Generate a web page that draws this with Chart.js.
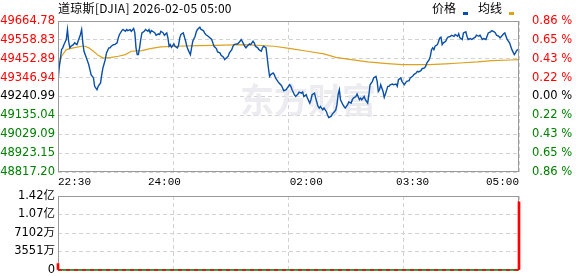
<!DOCTYPE html>
<html>
<head>
<meta charset="utf-8">
<script src="https://cdn.jsdelivr.net/npm/chart.js@4.4.1/dist/chart.umd.min.js"></script>
<style>
  html, body { margin: 0; padding: 0; background: #fff; overflow: hidden; }
  #wrap { position: relative; width: 578px; height: 276px; }
  #title { position: absolute; left: 58px; top: 0; font: 12px "Noto Sans CJK SC"; line-height: 16px; color: #000; white-space: nowrap; letter-spacing: 0.3px; }
  #legend { position: absolute; left: 432px; top: 0; font: 12px "Noto Sans CJK SC"; line-height: 16px; color: #000; white-space: nowrap; }
  #legend i { display: inline-block; width: 5px; height: 3px; vertical-align: -2px; margin: 0 10px 0 7px; }
  #main { position: absolute; left: 0; top: 0; }
  #vol { position: absolute; left: 0; top: 184px; }
</style>
</head>
<body>
<div id="wrap">
  <canvas id="main" width="578" height="192"></canvas>
  <canvas id="vol" width="578" height="96"></canvas>
  <div id="title">道琼斯[DJIA] 2026-02-05 05:00</div>
  <div id="legend">价格<i style="background:#0a4fa8"></i>均线<i style="background:#dca11d"></i></div>
</div>
<script>
// minutes after 22:30 open
const priceMin = [0,1,3,4,5,7,8,9,10,11,13,14,16,17,19,20,21,22,24,26,27,28,30,31,33,34,36,37,38,40,41,43,44,45,47,48,50,51,52,54,55,57,58,59,61,62,64,65,66,67,68,69,70,71,73,74,76,77,78,79,80,82,83,85,86,87,89,90,92,93,94,95,96,98,99,101,102,103,104,106,107,108,109,110,112,113,114,116,117,118,120,121,123,124,125,127,128,130,131,132,134,135,137,138,140,141,142,144,145,147,148,149,151,152,154,155,156,158,159,160,162,163,165,166,167,169,170,172,173,174,176,177,178,179,180,182,183,184,186,187,189,190,191,193,194,196,197,198,200,201,203,204,206,207,208,210,211,213,214,215,217,218,220,221,222,224,225,227,228,229,231,232,234,235,236,237,238,239,241,242,243,245,246,248,249,250,252,253,255,256,257,259,260,262,263,264,266,267,269,270,271,272,273,275,276,277,279,280,281,283,284,286,287,288,290,291,293,294,295,297,298,300,301,303,304,305,307,308,310,311,312,314,315,316,317,318,319,321,322,323,324,325,326,328,329,330,332,333,335,336,338,339,340,342,343,345,346,347,349,350,352,353,354,356,357,359,360,362,363,364,366,367,369,370,371,373,374,376,377,378,379,380,382,383,384,386,387,388,390]
const priceVals = [49326,49401,49504,49514,49532,49561,49617,49551,49514,49523,49532,49542,49532,49551,49589,49617,49542,49495,49458,49420,49392,49364,49345,49298,49279,49298,49317,49364,49401,49448,49486,49514,49514,49523,49532,49532,49542,49570,49589,49611,49617,49607,49617,49611,49617,49607,49623,49598,49514,49476,49476,49514,49561,49598,49607,49617,49607,49617,49598,49611,49607,49598,49585,49593,49589,49607,49598,49585,49598,49570,49523,49532,49517,49536,49523,49514,49529,49570,49589,49598,49574,49551,49523,49504,49476,49514,49551,49579,49604,49617,49630,49617,49611,49598,49589,49579,49574,49561,49542,49523,49510,49491,49486,49472,49461,49448,49454,49467,49486,49504,49523,49532,49536,49536,49551,49561,49549,49523,49514,49523,49536,49532,49551,49542,49523,49514,49504,49495,49514,49523,49514,49458,49401,49354,49364,49373,49364,49345,49326,49317,49303,49289,49273,49279,49289,49307,49298,49279,49251,49241,49255,49266,49260,49266,49241,49251,49232,49204,49223,49251,49260,49232,49185,49176,49185,49166,49176,49157,49138,49123,49129,49142,49157,49166,49195,49251,49279,49223,49195,49185,49176,49195,49210,49204,49223,49232,49241,49255,49223,49232,49223,49241,49223,49204,49251,49307,49326,49345,49354,49326,49269,49279,49307,49269,49236,49255,49298,49298,49307,49311,49307,49311,49298,49335,49345,49326,49307,49317,49326,49330,49345,49354,49364,49373,49382,49379,49386,49397,49401,49410,49429,49448,49467,49504,49514,49504,49523,49532,49551,49570,49574,49532,49542,49551,49566,49574,49579,49585,49579,49589,49579,49593,49570,49561,49598,49604,49579,49561,49566,49561,49570,49574,49585,49579,49585,49561,49566,49561,49579,49598,49604,49611,49604,49598,49585,49579,49570,49585,49593,49598,49579,49561,49542,49523,49504,49476,49486,49499,49508]

const avgMin  = [0,3,7,13,20,23,26,30,34,38,41,45,51,57,62,71,78,87,99,118,133,157,183,197,211,225,235,248,262,276,291,314,328,340,355,367,383,390]
const avgVals = [49392,49467,49504,49514,49523,49523,49514,49495,49472,49458,49458,49461,49467,49476,49495,49499,49510,49519,49523,49527,49528,49532,49523,49510,49495,49480,49461,49448,49435,49427,49420,49420,49424,49429,49435,49442,49446,49448]

const volMin  = [0, 390]
const volVals = [1230e4, 13100e4]

const priceTicks = [48817.20, 48923.15, 49029.09, 49135.04, 49240.99, 49346.94, 49452.89, 49558.83, 49664.78]
const pctLabels  = ['0.86 %','0.65 %','0.43 %','0.22 %','0.00 %','0.22 %','0.43 %','0.65 %','0.86 %']
const timeTicks  = [0, 90, 210, 300, 390]
const timeLabels = ['22:30','24:00','02:00','03:30','05:00']
const gridTimes  = [0, 97.5, 195, 292.5, 390]
const volTicks   = [0, 3551e4, 7102e4, 10653e4, 14204e4]
const volLabels  = ['0','3551万','7102万','1.07亿','1.42亿']

const GRID = '#d2d2d2'
const numFont = { family: '"DejaVu Sans", "Noto Sans CJK SC"', size: 11.5 }
const upDown = c => c.index > 4 ? '#ff0000' : c.index === 4 ? '#000000' : '#008000'

function strokeFrame(chart) {
  const { ctx, chartArea: a } = chart
  ctx.save()
  ctx.strokeStyle = '#9a9a9a'
  ctx.lineWidth = 1
  ctx.strokeRect(a.left + 0.5, a.top + 0.5, a.right - a.left - 1, a.bottom - a.top - 1)
  ctx.restore()
}
const frameAfter  = { id: 'frameAfter',  afterDraw: strokeFrame }
const frameBefore = { id: 'frameBefore', beforeDatasetsDraw: strokeFrame }

const watermark = {
  id: 'watermark',
  beforeDatasetsDraw(chart) {
    const { ctx } = chart
    ctx.save()
    ctx.fillStyle = 'rgba(226,226,233,0.7)'
    ctx.font = 'bold 34px "Noto Sans CJK SC"'
    ctx.textBaseline = 'middle'
    ctx.fillText('东方财富', 240, 100)
    ctx.restore()
  }
}

new Chart(document.getElementById('main'), {
  type: 'line',
  data: {
    datasets: [
      {
        label: '价格',
        data: priceMin.map((m, i) => ({ x: m, y: priceVals[i] })),
        borderColor: '#0a4fa8', borderWidth: 1.4, pointRadius: 0, tension: 0,
      },
      {
        label: '均线',
        data: avgMin.map((m, i) => ({ x: m, y: avgVals[i] })),
        borderColor: '#dca11d', borderWidth: 1.2, pointRadius: 0, tension: 0,
      },
    ],
  },
  options: {
    responsive: false,
    animation: false,
    events: [],
    layout: { padding: { top: 21 } },
    plugins: { legend: { display: false }, tooltip: { enabled: false } },
    scales: {
      x: {
        type: 'linear', position: 'bottom', min: 0, max: 390,
        afterBuildTicks: s => { s.ticks = timeTicks.map(v => ({ value: v })) },
        afterFit: s => { s.height = 20 },
        ticks: {
          callback: (v, i) => timeLabels[i], align: 'inner', autoSkip: false, maxRotation: 0,
          color: '#000', padding: 3, font: { family: '"Liberation Mono"', size: 11 },
        },
        grid: { display: false, drawTicks: false, tickLength: 0 },
        border: { display: false },
      },
      xg: {
        type: 'linear', position: 'top', min: 0, max: 390,
        afterBuildTicks: s => { s.ticks = gridTimes.map(v => ({ value: v })) },
        afterFit: s => { s.height = 0 },
        ticks: { display: false },
        grid: { color: GRID, drawTicks: false },
        border: { display: false, dash: [4, 3] },
      },
      y: {
        position: 'left', min: priceTicks[0], max: priceTicks[8],
        afterBuildTicks: s => { s.ticks = priceTicks.map(v => ({ value: v })) },
        afterFit: s => { s.width = 58 },
        ticks: { callback: (v, i) => priceTicks[i].toFixed(2), color: upDown, font: numFont, padding: 3, autoSkip: false },
        grid: { color: GRID, drawTicks: false },
        border: { display: false, dash: [4, 3] },
      },
      y2: {
        position: 'right', min: priceTicks[0], max: priceTicks[8],
        afterBuildTicks: s => { s.ticks = priceTicks.map(v => ({ value: v })) },
        afterFit: s => { s.width = 59 },
        ticks: { callback: (v, i) => pctLabels[i], color: upDown, font: numFont, padding: 5, autoSkip: false },
        grid: { display: false },
        border: { display: false },
      },
    },
  },
  plugins: [watermark, frameAfter],
})

new Chart(document.getElementById('vol'), {
  type: 'bar',
  data: {
    datasets: [
      {
        type: 'bar',
        data: volMin.map((m, i) => ({ x: m, y: volVals[i] })),
        backgroundColor: '#ff0000', barThickness: 2, clip: false,
      },
      {
        type: 'line',
        data: [{ x: 0, y: 0 }, { x: 390, y: 0 }],
        borderColor: '#ff0000', borderWidth: 1.5, borderDash: [4, 4], pointRadius: 0, clip: false,
      },
      {
        type: 'line',
        data: [{ x: 0, y: 0 }, { x: 390, y: 0 }],
        borderColor: '#1a8a1a', borderWidth: 1.5, pointRadius: 0, clip: false,
      },
    ],
  },
  options: {
    responsive: false,
    animation: false,
    events: [],
    layout: { padding: { top: 12, bottom: 10, right: 59 } },
    plugins: { legend: { display: false }, tooltip: { enabled: false } },
    scales: {
      x: {
        type: 'linear', position: 'bottom', min: 0, max: 390, offset: false,
        afterBuildTicks: s => { s.ticks = gridTimes.map(v => ({ value: v })) },
        afterFit: s => { s.height = 0 },
        ticks: { display: false },
        grid: { color: GRID, drawTicks: false, offset: false },
        border: { display: false, dash: [4, 3] },
      },
      y: {
        position: 'left', min: 0, max: volTicks[4],
        afterBuildTicks: s => { s.ticks = volTicks.map(v => ({ value: v })) },
        afterFit: s => { s.width = 58 },
        ticks: { callback: (v, i) => volLabels[i], color: '#000', font: numFont, padding: 3, autoSkip: false },
        grid: { color: GRID, drawTicks: false },
        border: { display: false, dash: [4, 3] },
      },
    },
  },
  plugins: [frameBefore],
})
</script>
</body>
</html>
